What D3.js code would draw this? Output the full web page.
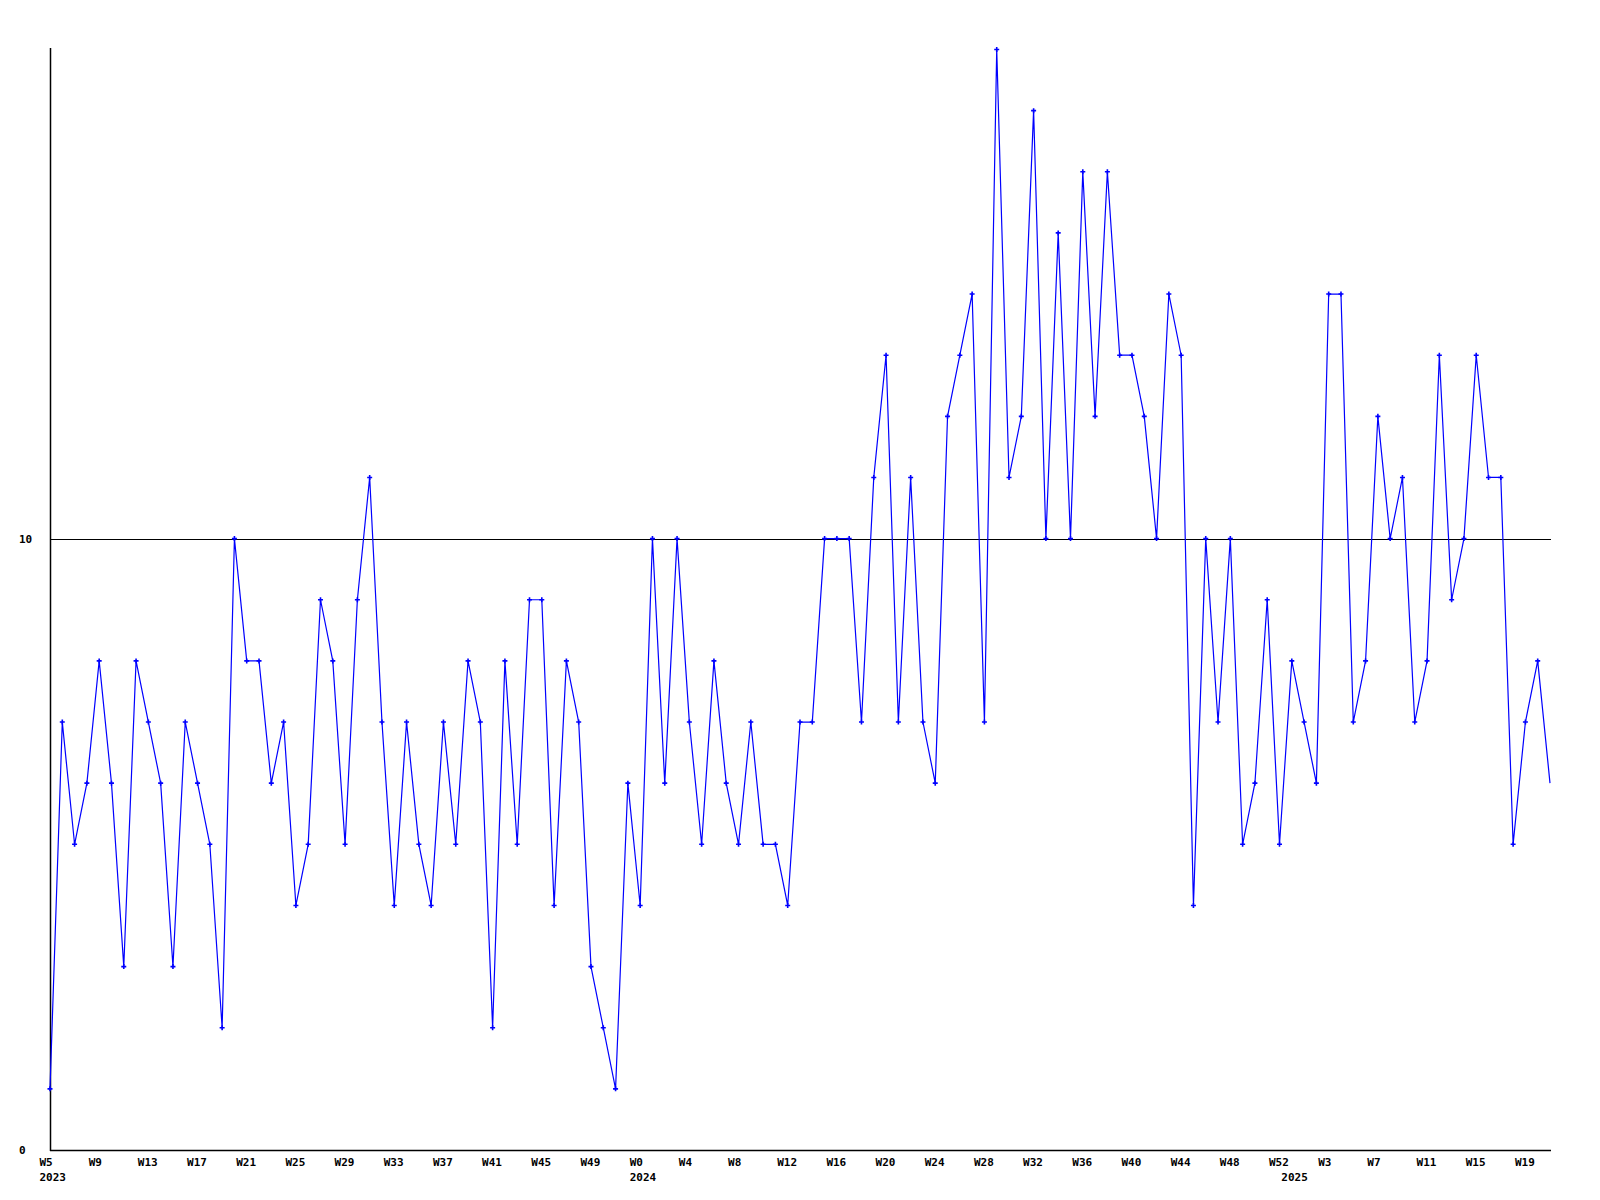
<!DOCTYPE html>
<html>
<head>
<meta charset="utf-8">
<script src="https://cdn.jsdelivr.net/npm/d3@7"></script>
<style>
  html, body { margin: 0; padding: 0; background: #ffffff; }
  svg { display: block; }
  text { font-family: "DejaVu Sans Mono", "Liberation Mono", monospace; font-weight: bold; font-size: 11px; fill: #000; }
</style>
</head>
<body>
<svg id="chart" width="1600" height="1200"></svg>
<script>
// ---- data ----
const years = [2023, 2024, 2025];
const weeksPerYear = [
  d3.range(5, 53),   // 2023: W5..W52
  d3.range(0, 53),   // 2024: W0..W52
  d3.range(0, 22)    // 2025: W0..W21
];
const values = [
  1, 7, 5, 6, 8, 6, 3, 8, 7, 6, 3, 7, 6, 5, 2, 10, 8, 8, 6, 7,
  4, 5, 9, 8, 5, 9, 11, 7, 4, 7, 5, 4, 7, 5, 8, 7, 2, 8, 5, 9,
  9, 4, 8, 7, 3, 2, 1, 6, 4, 10, 6, 10, 7, 5, 8, 6, 5, 7, 5, 5,
  4, 7, 7, 10, 10, 10, 7, 11, 13, 7, 11, 7, 6, 12, 13, 14, 7, 18, 11, 12,
  17, 10, 15, 10, 16, 12, 16, 13, 13, 12, 10, 14, 13, 4, 10, 7, 10, 5, 6, 9,
  5, 8, 7, 6, 14, 14, 7, 8, 12, 10, 11, 7, 8, 13, 9, 10, 13, 11, 11, 5,
  7, 8, 6
];
const yTickValues = [0, 10];
const yMax = 18;
const labelEvery = 4;

// build week list
const weeks = [];
years.forEach((yr, i) => weeksPerYear[i].forEach((w, j) => weeks.push({ year: yr, week: w, first: j === 0 })));
const data = values.map((v, i) => ({ i, v, ...weeks[i] }));

// ---- layout ----
const svg = d3.select("#chart");
const x0 = 50, x1 = 1550, yTop = 49.5, yBot = 1150;

const x = d3.scaleLinear().domain([0, values.length - 1]).range([x0, x1]);
const y = d3.scaleLinear().domain([0, yMax]).range([yBot, yTop]);

// horizontal line at 10
svg.append("g").selectAll("line.grid").data(yTickValues.filter(d => d > 0)).join("line")
  .attr("x1", x0).attr("x2", x1 + 1)
  .attr("y1", d => Math.round(y(d)) + 0.5).attr("y2", d => Math.round(y(d)) + 0.5)
  .attr("stroke", "#000").attr("stroke-width", 1);

// axes lines
svg.append("line").attr("x1", x0 + 0.5).attr("x2", x0 + 0.5).attr("y1", 48).attr("y2", yBot + 1)
  .attr("stroke", "#000").attr("stroke-width", 1.5);
svg.append("line").attr("x1", x0).attr("x2", x1 + 1).attr("y1", yBot + 0.5).attr("y2", yBot + 0.5)
  .attr("stroke", "#000").attr("stroke-width", 1.5);

// y labels
svg.append("g").selectAll("text").data(yTickValues).join("text")
  .attr("x", 19).attr("y", d => y(d) + 4)
  .text(d => d);

// x labels (week)
const xl = data.filter(d => d.i % labelEvery === 0);
svg.append("g").selectAll("text").data(xl).join("text")
  .attr("x", d => x(d.i) - 10.5).attr("y", 1166)
  .text(d => "W" + d.week);

// year labels
svg.append("g").selectAll("text").data(data.filter(d => d.first)).join("text")
  .attr("x", d => x(d.i) - 10.5).attr("y", 1181)
  .text(d => d.year);

// line
const line = d3.line().x(d => x(d.i)).y(d => y(d.v));
svg.append("path").datum(data)
  .attr("d", line)
  .attr("fill", "none").attr("stroke", "#0000ff").attr("stroke-width", 1.2);

// markers
svg.append("g").selectAll("path").data(data.slice(0, data.length - 1)).join("path")
  .attr("transform", d => `translate(${x(d.i)},${y(d.v)})`)
  .attr("d", "M-2.5,0H2.5M0,-2.5V2.5")
  .attr("stroke", "#0000ff").attr("stroke-width", 1.6);
</script>
</body>
</html>
